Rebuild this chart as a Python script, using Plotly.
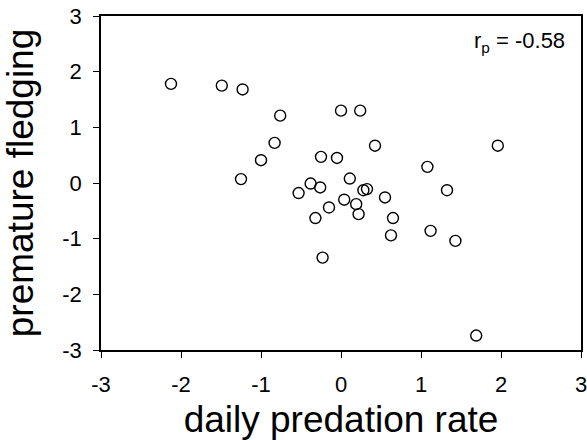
import plotly.graph_objects as go

# data
daily_predation_rate = [
    -2.125, -1.49, -1.23, -0.76, -0.83, -1.00, -1.25, 0.00, 0.24, 0.425,
    -0.25, -0.05, 0.11, -0.38, -0.26, -0.53, 0.28, 0.325, 0.04, 0.19,
    -0.15, 0.22, -0.32, -0.23, 1.96, 1.08, 1.325, 0.55, 0.65, 0.625,
    1.12, 1.43, 1.69,
]
premature_fledging = [
    1.78, 1.75, 1.68, 1.21, 0.72, 0.41, 0.07, 1.30, 1.30, 0.67,
    0.47, 0.45, 0.08, -0.01, -0.08, -0.18, -0.13, -0.11, -0.30, -0.38,
    -0.44, -0.56, -0.63, -1.34, 0.67, 0.29, -0.13, -0.26, -0.63, -0.94,
    -0.86, -1.04, -2.74,
]
tick_vals = [-3, -2, -1, 0, 1, 2, 3]
tick_text = ["-3", "-2", "-1", "0", "1", "2", "3"]
x_title = "daily predation rate"
y_title = "premature fledging"
corr_label = "r<sub>p</sub> = -0.58"

FONT = "Liberation Sans, Arial, sans-serif"

fig = go.Figure(
    go.Scatter(
        x=daily_predation_rate,
        y=premature_fledging,
        mode="markers",
        marker=dict(symbol="circle-open", size=11, color="black",
                    line=dict(width=1.4, color="black")),
        showlegend=False,
        hoverinfo="x+y",
    )
)

axis_common = dict(
    range=[-3, 3],
    tickmode="array",
    tickvals=tick_vals,
    ticktext=tick_text,
    showgrid=False,
    zeroline=False,
    showline=True,
    linecolor="black",
    linewidth=1.5,
    mirror=True,
    ticks="outside",
    ticklen=6,
    tickwidth=1.2,
    tickcolor="black",
    tickfont=dict(family=FONT, size=22, color="black"),
    ticklabeloverflow="allow",
    automargin=False,
)

fig.update_xaxes(**axis_common, ticklabelstandoff=8,
                 title=dict(text=x_title, font=dict(family=FONT, size=37, color="black"),
                            standoff=19))
fig.update_yaxes(**axis_common, ticklabelstandoff=7,
                 title=dict(text=y_title, font=dict(family=FONT, size=37, color="black"),
                            standoff=26))

fig.add_annotation(
    text=corr_label, xref="paper", yref="paper", x=0.971, y=0.922,
    xanchor="right", yanchor="middle", showarrow=False,
    font=dict(family=FONT, size=22, color="black"),
)

fig.update_layout(
    width=587, height=440,
    margin=dict(l=101, r=6, t=16, b=90),
    paper_bgcolor="white", plot_bgcolor="white",
    font=dict(family=FONT, color="black"),
)

# remove the browser's default page margin so the figure fills the window
fig.write_html("out.html", config={"displayModeBar": False},
               post_script="document.body.style.margin='0';")
